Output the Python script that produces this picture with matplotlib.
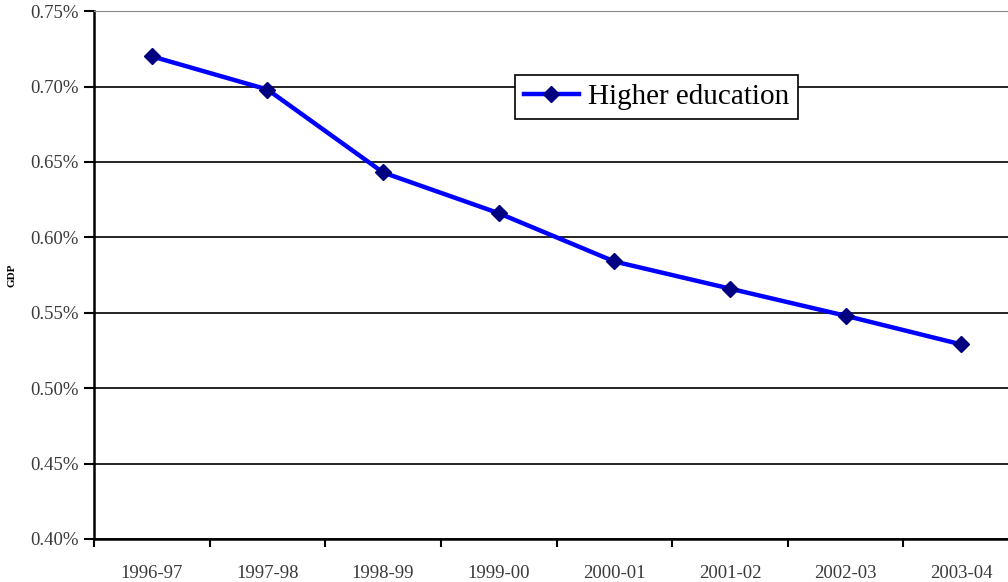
import matplotlib.pyplot as plt
from matplotlib.ticker import FuncFormatter

years = ['1996-97', '1997-98', '1998-99', '1999-00',
         '2000-01', '2001-02', '2002-03', '2003-04']
higher_ed = [0.720, 0.698, 0.643, 0.616, 0.584, 0.566, 0.548, 0.529]
y_ticks = [0.40, 0.45, 0.50, 0.55, 0.60, 0.65, 0.70, 0.75]

plt.rcParams['font.family'] = ['Liberation Serif', 'DejaVu Serif']

fig = plt.figure(figsize=(10.08, 5.82), dpi=100)
ax = fig.add_axes([0.0933, 0.0739, 0.9177, 0.907])

x = list(range(len(years)))
ax.plot(x, higher_ed, color='#0000ff', lw=3.2, marker='D', markersize=8,
        markerfacecolor='#000080', markeredgecolor='#000080',
        label='Higher education', zorder=3)

ax.set_xlim(-0.5, len(years) - 0.5)
ax.set_ylim(0.40, 0.75)
ax.set_yticks(y_ticks)
ax.yaxis.set_major_formatter(FuncFormatter(lambda v, p: '%.2f%%' % v))
# category labels sit between the tick marks
ax.set_xticks([i - 0.5 for i in x])
ax.set_xticklabels([])
ax.set_xticks(x, minor=True)
ax.set_xticklabels(years, minor=True)
ax.tick_params(axis='x', which='minor', length=0, pad=19)
ax.tick_params(axis='x', which='major', length=6, width=1.5, direction='out')
ax.tick_params(axis='y', length=7, width=1.5, direction='out', pad=4)
ax.tick_params(axis='both', which='both', labelsize=13.5, labelcolor='#3a3a3a')

ax.grid(axis='y', color='black', lw=1.2)
ax.set_axisbelow(True)
for s in ['left', 'bottom']:
    ax.spines[s].set_linewidth(1.8)
ax.spines['top'].set_color('#888888')
ax.spines['right'].set_visible(False)

ax.set_ylabel('GDP', fontsize=8, fontweight='bold')
ax.yaxis.set_label_coords(-0.084, 0.5)

leg = ax.legend(loc='upper left', bbox_to_anchor=(0.455, 0.879), fontsize=21,
                frameon=True, fancybox=False, framealpha=1, edgecolor='black',
                handlelength=1.9, handletextpad=0.3, borderpad=0.3,
                borderaxespad=0)
leg.get_frame().set_linewidth(1.2)

fig.savefig('out.png', dpi=100)
